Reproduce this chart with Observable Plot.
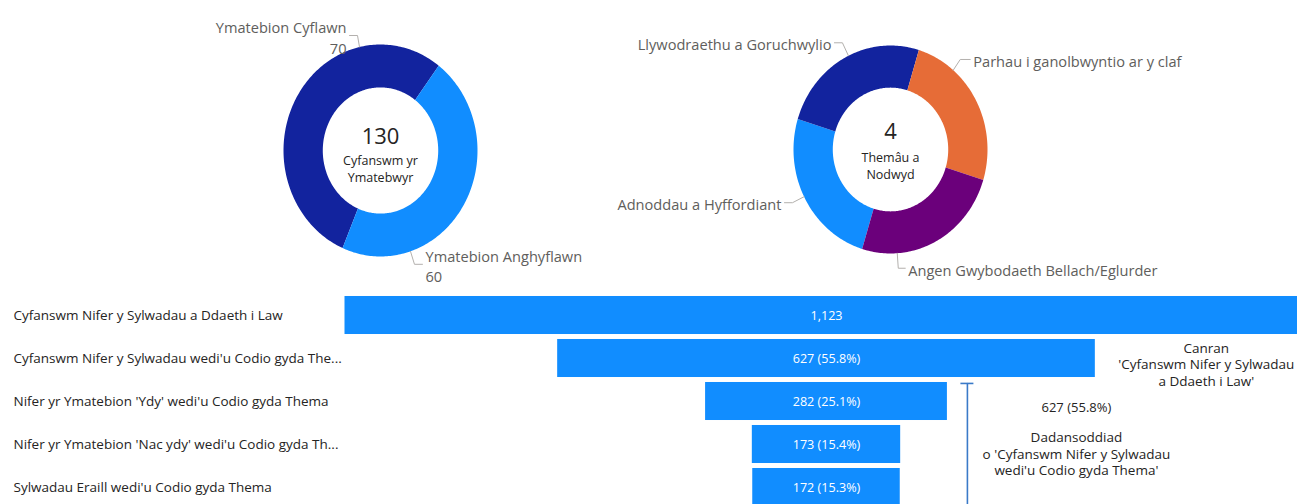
<!DOCTYPE html>
<html><head><meta charset="utf-8">
<script src="https://cdn.jsdelivr.net/npm/d3@7"></script>
<script src="https://cdn.jsdelivr.net/npm/@observablehq/plot@0.6"></script>
<style>
html,body{margin:0;padding:0;background:#fff;overflow:hidden;}
#wrap{position:relative;width:1297px;height:504px;overflow:hidden;}
#wrap > div{position:absolute;left:0;}
svg{overflow:visible;}
</style></head><body>
<div id="wrap"><div id="d1" style="top:0"></div><div id="d2" style="top:0"></div><div id="fn" style="top:290px"></div></div>
<script>
// ---------- Data ----------
// Donut 1: responses
const respCategories = ["Ymatebion Cyflawn", "Ymatebion Anghyflawn"];
const respValues = [70, 60];
const respColors = ["#12239E", "#118DFF"];
const respCenterLabel = "Cyfanswm yr\nYmatebwyr";

// Donut 2: themes
const themeCategories = ["Adnoddau a Hyffordiant", "Llywodraethu a Goruchwylio", "Parhau i ganolbwyntio ar y claf", "Angen Gwybodaeth Bellach/Eglurder"];
const themeValues = [1, 1, 1, 1];
const themeColors = ["#118DFF", "#12239E", "#E66C37", "#6B007B"];
const themeCenterLabel = "Themâu a\nNodwyd";

// Funnel
const funnelStages = [
  "Cyfanswm Nifer y Sylwadau a Ddaeth i Law",
  "Cyfanswm Nifer y Sylwadau wedi'u Codio gyda Thema",
  "Nifer yr Ymatebion 'Ydy' wedi'u Codio gyda Thema",
  "Nifer yr Ymatebion 'Nac ydy' wedi'u Codio gyda Thema",
  "Sylwadau Eraill wedi'u Codio gyda Thema"
];
const funnelTickLabels = [
  "Cyfanswm Nifer y Sylwadau a Ddaeth i Law",
  "Cyfanswm Nifer y Sylwadau wedi'u Codio gyda The...",
  "Nifer yr Ymatebion 'Ydy' wedi'u Codio gyda Thema",
  "Nifer yr Ymatebion 'Nac ydy' wedi'u Codio gyda Th...",
  "Sylwadau Eraill wedi'u Codio gyda Thema"
];
const funnelValues = [1123, 627, 282, 173, 172];
const breakdownStart = 2; // stages from this index break down stage 1

// ---------- Style / layout ----------
const FONT = "'Segoe UI', 'Open Sans', sans-serif";
const W = 1297, TOPH = 290;
const rad = Math.PI / 180;

function donutPlot(cfg) {
  const {cats, vals, colors, startDeg, cx, cy, rx, ry, inner, texts, layout, centerValue, centerLabel, valueDy, labelDy} = cfg;
  const pie = d3.pie().sort(null).value(d => d.v).startAngle(startDeg * rad).endAngle(startDeg * rad + 2 * Math.PI);
  const arcs = pie(cats.map((c, i) => ({c, v: vals[i]})));
  const ring = arcs.flatMap(a => {
    const n = Math.max(4, Math.ceil((a.endAngle - a.startAngle) / rad));
    const t = d3.range(n + 1).map(k => a.startAngle + (a.endAngle - a.startAngle) * k / n);
    const outer = t.map(u => ({c: a.data.c, x: Math.sin(u), y: Math.cos(u)}));
    const inn = t.slice().reverse().map(u => ({c: a.data.c, x: inner * Math.sin(u), y: inner * Math.cos(u)}));
    return outer.concat(inn);
  });
  const leaders = [], labs = [];
  layout.forEach((l, i) => {
    const a = l.angle * rad;
    const x0 = Math.sin(a), y0 = Math.cos(a);
    const x1 = x0 + l.ex / rx, y1 = y0 - l.ey / ry;
    const x2 = x1 + l.len / rx;
    leaders.push({k: i, x: x0, y: y0}, {k: i, x: x1, y: y1}, {k: i, x: x2, y: y1});
    labs.push({x: x2, y: y1, side: l.len < 0 ? "end" : "start", text: texts[i]});
  });
  const labOpts = {x: "x", y: "y", text: "text", fill: "#605E5C", fontSize: 14.6, lineHeight: 1.42, dy: 1};
  return Plot.plot({
    width: W, height: TOPH, margin: 0,
    style: {background: "transparent", fontFamily: FONT, overflow: "visible"},
    x: {domain: [-cx / rx, (W - cx) / rx], range: [0, W], axis: null},
    y: {domain: [(cy - TOPH) / ry, cy / ry], range: [TOPH, 0], axis: null},
    color: {domain: cats, range: colors},
    marks: [
      Plot.line(ring, {x: "x", y: "y", z: "c", fill: "c", stroke: "none", curve: "linear-closed"}),
      Plot.line(leaders, {x: "x", y: "y", z: "k", stroke: "#B3B0AD", strokeWidth: 1}),
      Plot.text(labs.filter(d => d.side === "end"), {...labOpts, textAnchor: "end", dx: -3}),
      Plot.text(labs.filter(d => d.side === "start"), {...labOpts, textAnchor: "start", dx: 3}),
      Plot.text([centerValue], {x: 0, y: 0, text: d => String(d), fontSize: 22, fill: "#252423", dy: valueDy}),
      Plot.text([centerLabel], {x: 0, y: 0, text: d => d, fontSize: 12.5, lineHeight: 1.35, fill: "#252423", dy: labelDy})
    ]
  });
}

const respTotal = d3.sum(respValues);
document.getElementById("d1").append(donutPlot({
  cats: respCategories, vals: respValues, colors: respColors, startDeg: 203,
  cx: 380, cy: 150, rx: 97, ry: 106, inner: 0.595,
  texts: respCategories.map((c, i) => `${c}\n${respValues[i]}`),
  layout: [
    {angle: -12.5, ex: -2, ey: -11.5, len: -8},
    {angle: 162, ex: 4, ey: 13, len: 8}
  ],
  centerValue: respTotal, centerLabel: respCenterLabel, valueDy: -14, labelDy: 18
}));

document.getElementById("d2").append(donutPlot({
  cats: themeCategories, vals: themeValues, colors: themeColors, startDeg: 197,
  cx: 890, cy: 149, rx: 97, ry: 104, inner: 0.595,
  texts: themeCategories,
  layout: [
    {angle: 243, ex: -11.6, ey: 6, len: -8},
    {angle: -25.7, ex: -6, ey: -13, len: -8},
    {angle: 40.3, ex: 7, ey: -10.7, len: 10},
    {angle: 176, ex: 1, ey: 15, len: 7}
  ],
  centerValue: themeCategories.length, centerLabel: themeCenterLabel, valueDy: -18, labelDy: 16
}));

// ---------- Funnel ----------
const total = funnelValues[0];
const fmt = d3.format(",");
const pct = v => `${fmt(v)} (${(v / total * 100).toFixed(1)}%)`;
const rows = funnelStages.map((s, i) => ({i, s, v: funnelValues[i], label: i === 0 ? fmt(total) : pct(funnelValues[i])}));
const sub = rows.slice(breakdownStart);
const xb = d3.max(sub, d => d.v) / 2;
const half = 0.442;
const FH = 214;
const ANN = "#252423";

document.getElementById("fn").append(Plot.plot({
  width: W, height: FH, margin: 0,
  style: {background: "transparent", fontFamily: FONT, overflow: "hidden"},
  x: {domain: [-total / 2, total / 2], range: [344.5, 1307.5], axis: null},
  y: {domain: [0, funnelStages.length - 1], range: [25, 25 + 43 * (funnelStages.length - 1)], axis: null},
  marks: [
    Plot.rect(rows, {x1: d => -d.v / 2, x2: d => d.v / 2, y1: d => d.i - half, y2: d => d.i + half, fill: "#118DFF"}),
    Plot.text(rows, {x: 0, y: "i", text: "label", fill: "white", fontSize: 12.6}),
    Plot.axisY({ticks: rows.map(d => d.i), tickFormat: i => funnelTickLabels[i], label: null, anchor: "left", tickSize: 0, tickPadding: 0, textAnchor: "start", dx: 13, fontSize: 13.5, fill: "#252423"}),
    Plot.ruleX([xb], {x: d => d, y1: breakdownStart - 0.42, y2: funnelStages.length, dx: 20, stroke: "#3A7AC8", strokeWidth: 1.6}),
    Plot.ruleY([breakdownStart - 0.42], {y: d => d, x1: xb, x2: xb, dx: 20, insetLeft: -6.5, insetRight: -6.5, stroke: "#3A7AC8", strokeWidth: 1.6}),
    Plot.text([rows[1]], {x: xb, y: breakdownStart, text: d => d.label, dx: 129, dy: 6, fontSize: 13, fill: ANN}),
    Plot.text([rows[1]], {x: xb, y: breakdownStart + 1, text: d => `Dadansoddiad\no 'Cyfanswm Nifer y Sylwadau\nwedi'u Codio gyda Thema'`, dx: 129, dy: 9, fontSize: 13.5, lineHeight: 1.22, fill: ANN}),
    Plot.text([rows[1]], {x: d => d.v / 2, y: 1, text: d => `Canran\n'Cyfanswm Nifer y Sylwadau\na Ddaeth i Law'`, dx: 111, dy: 5.5, fontSize: 13.5, lineHeight: 1.22, fill: ANN})
  ]
}));
</script>
</body></html>
